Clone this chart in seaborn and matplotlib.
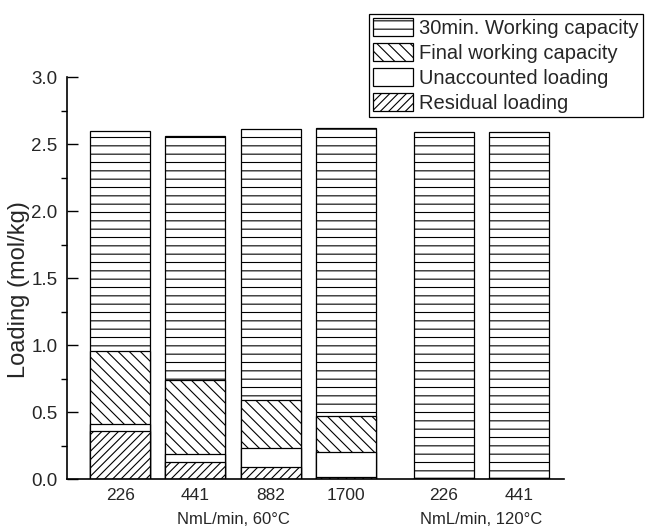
import numpy as np
import pandas as pd
import matplotlib
matplotlib.use("Agg")
import matplotlib.pyplot as plt
from matplotlib.patches import Patch
from matplotlib.ticker import MultipleLocator, FormatStrFormatter
import seaborn as sns

# Bar positions (two flow-rate groups with a gap) and their tick labels
positions = [0.0, 1.0, 2.0, 3.0, 4.3, 5.3]
flow_labels = ["226", "441", "882", "1700", "226", "441"]
group_labels = ["NmL/min, 60°C", "NmL/min, 120°C"]
group_members = [[0, 1, 2, 3], [4, 5]]

# Loading components (mol/kg), bottom to top of each stack
residual = [0.36, 0.13, 0.09, 0.02, 0.01, 0.01]
unaccounted = [0.05, 0.06, 0.14, 0.18, 0.00, 0.00]
final_wc = [0.55, 0.55, 0.36, 0.27, 0.00, 0.00]
wc_30min = [1.64, 1.82, 2.02, 2.15, 2.58, 2.58]

series_names = ["Residual loading", "Unaccounted loading",
                "Final working capacity", "30min. Working capacity"]
series_hatch = ["////", "", "\\\\\\", "--"]

sns.set_style("ticks")
plt.rcParams["font.family"] = ["Liberation Sans", "DejaVu Sans"]
plt.rcParams["hatch.linewidth"] = 0.8
plt.rcParams["hatch.color"] = "black"

df = pd.DataFrame({
    "pos": positions,
    "residual": residual,
    "unaccounted": unaccounted,
    "final_wc": final_wc,
    "wc_30min": wc_30min,
})
cols = ["residual", "unaccounted", "final_wc", "wc_30min"]
cum = df[cols].cumsum(axis=1)

fig = plt.figure(figsize=(6.52, 5.29), dpi=100)
ax = fig.add_axes([67 / 652, 1 - 479.3 / 529, (564 - 67) / 652, (479.3 - 77) / 529])

# Stacks drawn as overlapping cumulative bars, tallest first
for col, hatch in zip(reversed(cols), reversed(series_hatch)):
    plot_df = pd.DataFrame({"pos": df["pos"], "val": cum[col]})
    sns.barplot(data=plot_df, x="pos", y="val", native_scale=True,
                color="white", saturation=1, edgecolor="black",
                linewidth=0.9, hatch=hatch, errorbar=None, ax=ax)

ax.set_xlim(-0.707, 5.9)
ax.set_ylim(0, 3.0)
ax.set_xticks(positions)
ax.set_xticklabels(flow_labels, fontsize=12.5)
ax.tick_params(axis="x", length=0, pad=6)
ax.yaxis.set_major_locator(MultipleLocator(0.5))
ax.yaxis.set_minor_locator(MultipleLocator(0.25))
ax.yaxis.set_major_formatter(FormatStrFormatter("%.1f"))
ax.tick_params(axis="y", which="major", direction="in", length=8, width=1,
               labelsize=13.5, pad=7, color="black")
ax.tick_params(axis="y", which="minor", direction="out", length=4, width=1,
               color="black")
ax.set_xlabel("")
ax.set_ylabel("")

for side in ["top", "right"]:
    ax.spines[side].set_visible(False)
for side in ["left", "bottom"]:
    ax.spines[side].set_linewidth(1.2)
    ax.spines[side].set_color("black")

# Group captions under the flow-rate ticks
trans = matplotlib.transforms.blended_transform_factory(ax.transData, fig.transFigure)
for label, members in zip(group_labels, group_members):
    xc = np.mean([positions[i] for i in members])
    ax.text(xc, 1 - 519 / 529, label, transform=trans, ha="center",
            va="center", fontsize=12)

fig.text(19 / 652, 1 - 290 / 529, "Loading (mol/kg)", rotation=90,
         ha="center", va="center", fontsize=17)

handles = [Patch(facecolor="white", edgecolor="black", linewidth=0.9,
                 hatch=h, label=n)
           for n, h in zip(reversed(series_names), reversed(series_hatch))]
leg = fig.legend(handles=handles, loc="upper right",
                 bbox_to_anchor=(643 / 652, 1 - 14 / 529),
                 bbox_transform=fig.transFigure, frameon=True, fancybox=False,
                 edgecolor="black", framealpha=1, fontsize=14.5,
                 borderpad=0.2, borderaxespad=0, handlelength=2.0,
                 handleheight=1.0, handletextpad=0.3, labelspacing=0.25)
leg.get_frame().set_linewidth(0.9)

fig.savefig("out.png", dpi=100)
